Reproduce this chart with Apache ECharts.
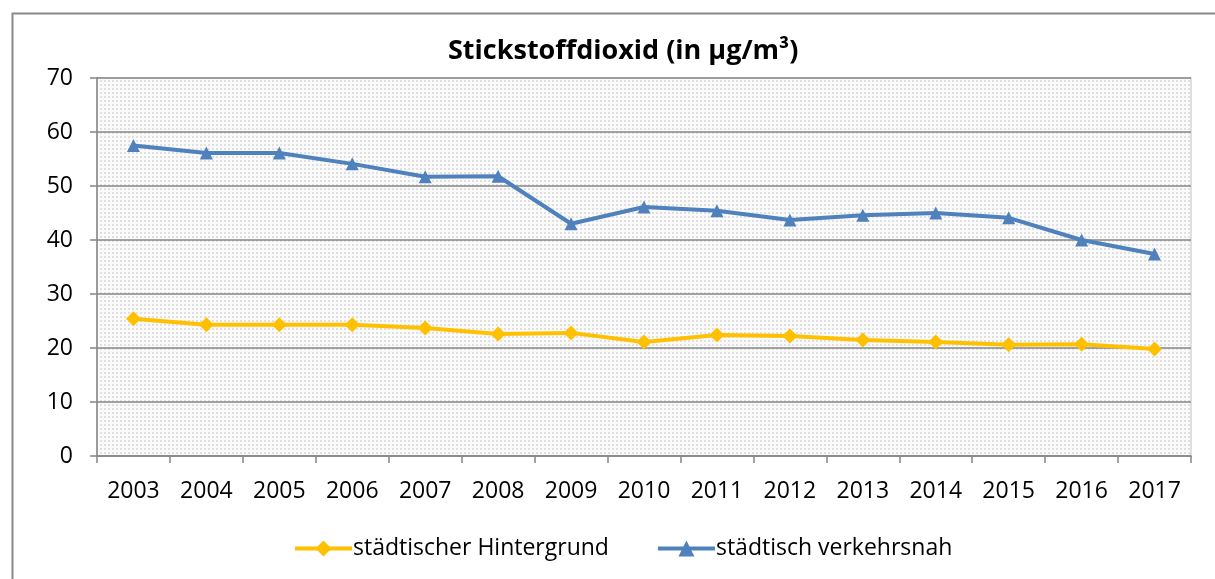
<!DOCTYPE html>
<html><head><meta charset="utf-8">
<script src="https://cdn.jsdelivr.net/npm/echarts@6/dist/echarts.min.js"></script>
<style>html,body{margin:0;padding:0;background:#fff}#c{width:1215px;height:579px}</style>
</head><body><div id="c"></div>
<script>
const years = ['2003','2004','2005','2006','2007','2008','2009','2010','2011','2012','2013','2014','2015','2016','2017'];
const hintergrund = [25.4,24.3,24.3,24.3,23.7,22.6,22.8,21.1,22.4,22.2,21.5,21.1,20.6,20.7,19.8];
const verkehrsnah = [57.5,56.1,56.1,54.1,51.7,51.8,43.0,46.1,45.4,43.7,44.6,45.0,44.1,40.0,37.4];
const yTicks = [0,10,20,30,40,50,60,70];

const pc = document.createElement('canvas');
pc.width = 4; pc.height = 4;
const g = pc.getContext('2d');
g.fillStyle = '#fafafa'; g.fillRect(0,0,4,4);
g.fillStyle = '#e0e0e0'; g.fillRect(0,0,2,2);

const font = '"Open Sans", "Noto Sans", sans-serif';
const chart = echarts.init(document.getElementById('c'));
chart.setOption({
  animation: false,
  textStyle: {fontFamily: font},
  graphic: [{type:'rect', left:10, top:11, shape:{width:1230, height:620}, style:{fill:'none', stroke:'#898989', lineWidth:2}, silent:true}],
  title: {text:'Stickstoffdioxid (in µg/m³)', left:448, top:38, padding:0,
    textStyle:{fontFamily:font, fontSize:27, fontWeight:'bold', color:'#000'}},
  grid: {left:97, right:24, top:78, bottom:123, show:true, backgroundColor:{image:pc, repeat:'repeat'}, borderColor:'#d6d6d6', borderWidth:1.5},
  legend: {bottom:19, left:293, padding:0, itemWidth:57, itemHeight:20, itemGap:47,
    lineStyle:{width:4},
    textStyle:{fontFamily:font, fontSize:23, color:'#000', padding:[0,0,0,-4]},
    data:['städtischer Hintergrund','städtisch verkehrsnah']},
  xAxis: {type:'category', data:years, boundaryGap:true,
    axisLine:{lineStyle:{color:'#868686', width:1.5}},
    axisTick:{show:true, length:7, lineStyle:{color:'#868686', width:1.5}},
    axisLabel:{color:'#000', fontSize:23, margin:24, fontFamily:font}},
  yAxis: {type:'value', min:0, max:70, interval:10,
    axisLine:{show:true, lineStyle:{color:'#868686', width:1.5}},
    axisTick:{show:true, length:7, lineStyle:{color:'#868686', width:1.5}},
    axisLabel:{color:'#000', fontSize:23, margin:24, fontFamily:font,
      formatter: v => yTicks.includes(v) ? String(v) : ''},
    splitLine:{lineStyle:{color:'#868686', width:1.5}}},
  series: [
    {name:'städtischer Hintergrund', type:'line', data:hintergrund, symbol:'diamond', symbolSize:15,
      lineStyle:{color:'#ffc000', width:4}, itemStyle:{color:'#ffc000'}},
    {name:'städtisch verkehrsnah', type:'line', data:verkehrsnah, symbol:'triangle', symbolSize:13,
      lineStyle:{color:'#4f81bd', width:4}, itemStyle:{color:'#4f81bd'}}
  ]
});
</script></body></html>
